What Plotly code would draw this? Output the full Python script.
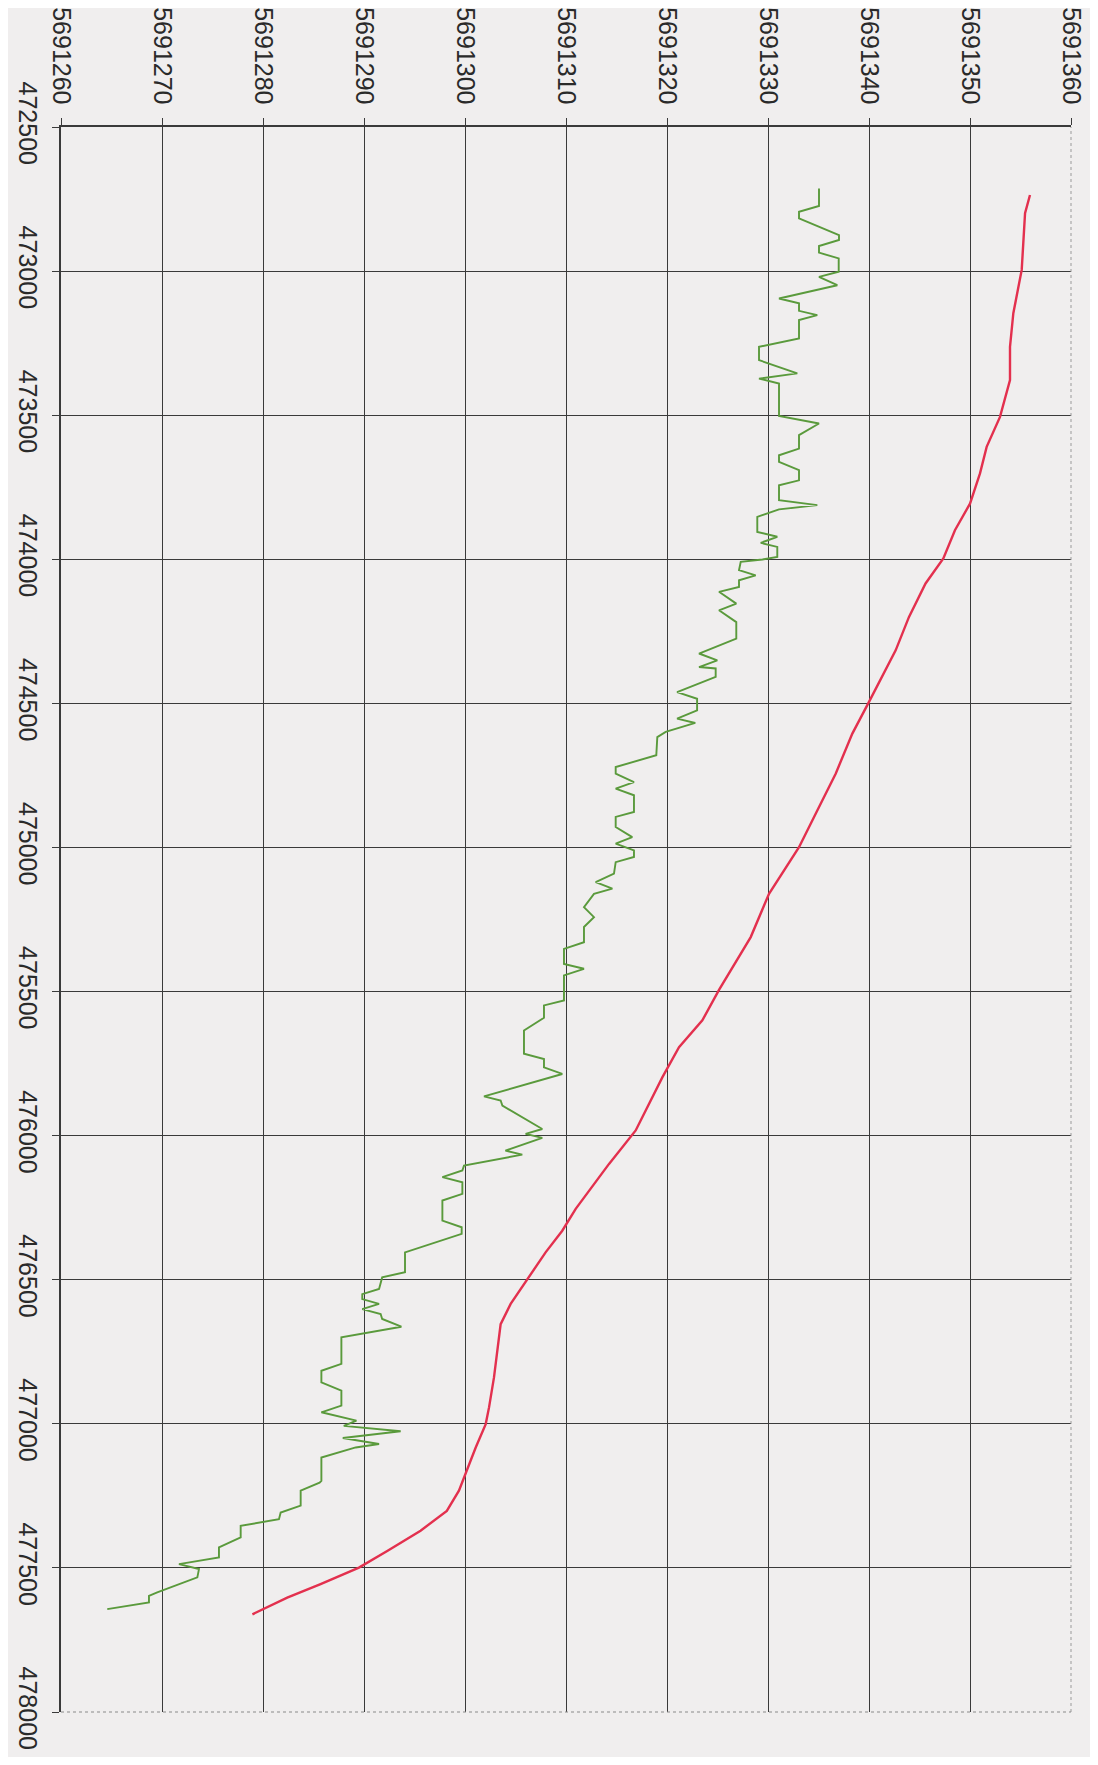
import plotly.graph_objects as go

# y-axis (vertical, reversed): easting; x-axis (horizontal, top): northing
easting_ticks = [472500, 473000, 473500, 474000, 474500, 475000, 475500,
                 476000, 476500, 477000, 477500, 478000]
northing_ticks = [5691260, 5691270, 5691280, 5691290, 5691300, 5691310,
                  5691320, 5691330, 5691340, 5691350, 5691360]

red_e = [472736, 472799, 472996, 473146, 473263, 473378, 473506, 473610, 473702,
         473807, 473899, 473997, 474084, 474200, 474316, 474385, 474495, 474605,
         474744, 474883, 474999, 475161, 475311, 475494, 475600, 475693, 475797,
         475982, 476098, 476254, 476330, 476405, 476497, 476584, 476654, 476746,
         476839, 476943, 477001, 477082, 477163, 477232, 477302, 477371, 477441,
         477499, 477556, 477603, 477661]
red_n = [5691355.94, 5691355.45, 5691355.12, 5691354.29, 5691353.96, 5691353.96,
         5691352.97, 5691351.65, 5691350.99, 5691350.0, 5691348.51, 5691347.36,
         5691345.6, 5691343.96, 5691342.64, 5691341.65, 5691340.0, 5691338.35,
         5691336.7, 5691334.72, 5691333.07, 5691330.1, 5691328.29, 5691325.15,
         5691323.5, 5691321.19, 5691319.55, 5691316.9, 5691314.26, 5691310.96,
         5691309.63, 5691307.98, 5691306.17, 5691304.52, 5691303.53, 5691303.2,
         5691302.87, 5691302.38, 5691302.05, 5691301.06, 5691300.2, 5691299.4,
         5691298.2, 5691295.6, 5691292.3, 5691289.5, 5691285.7, 5691282.4,
         5691278.95]

green_e = [472713, 472774, 472794, 472817, 472875, 472892, 472913, 472936, 472956,
           473002, 473020, 473049, 473095, 473112, 473138, 473153, 473170, 473234,
           473263, 473309, 473355, 473373, 473390, 473448,
           473503, 473529, 473569, 473616, 473639, 473662, 473691, 473726, 473743,
           473795, 473812, 473827, 473853, 473905, 473922, 473943, 473957, 473992,
           474001, 474009, 474038, 474056, 474073, 474096, 474113, 474154, 474177,
           474218, 474275, 474327, 474351, 474374,
           474379, 474408, 474461, 474484, 474524, 474553, 474568, 474599, 474617,
           474680, 474721, 474744, 474773, 474796, 474819, 474877, 474894, 474929,
           474964, 474987, 475010, 475033, 475051, 475091, 475120, 475143, 475161,
           475207, 475242, 475276, 475322,
           475329, 475352, 475404, 475421, 475444, 475531, 475548, 475591, 475635,
           475716, 475734, 475763, 475786, 475864, 475878, 475896, 475977, 475994,
           476008, 476052, 476066, 476104, 476121, 476144, 476162, 476202, 476225,
           476260,
           476295, 476318, 476341, 476405, 476474, 476492, 476532, 476550, 476567,
           476584, 476602, 476619, 476636, 476663, 476688, 476700, 476792, 476816,
           476856, 476885, 476937, 476960, 476989, 477007, 477026, 477049, 477070,
           477082, 477117, 477198,
           477204, 477232, 477284, 477308, 477331, 477354, 477394, 477429, 477464,
           477487, 477504, 477533, 477585, 477597, 477620, 477643]
green_n = [5691335.05, 5691335.05, 5691333.07, 5691333.07, 5691337.03, 5691337.03,
           5691335.05, 5691335.05, 5691337.0, 5691337.0, 5691335.05, 5691336.86,
           5691331.09, 5691333.07, 5691333.07, 5691334.88, 5691333.07, 5691333.07,
           5691329.11, 5691329.11, 5691332.9, 5691329.11, 5691331.09, 5691331.09,
           5691331.09, 5691335.05, 5691333.07, 5691333.07, 5691331.09, 5691331.09,
           5691333.07, 5691333.07, 5691331.09, 5691331.09, 5691334.88, 5691331.09,
           5691328.94, 5691328.94, 5691330.92, 5691329.28, 5691330.92, 5691330.92,
           5691329.44, 5691327.3, 5691327.13, 5691328.78, 5691327.13, 5691327.13,
           5691325.15, 5691326.86, 5691325.15, 5691326.86, 5691326.86, 5691323.17,
           5691324.98, 5691323.17,
           5691324.82, 5691324.82, 5691321.0, 5691322.98, 5691322.98, 5691321.0,
           5691322.8, 5691319.87, 5691319.04, 5691318.94, 5691314.92, 5691314.92,
           5691316.73, 5691314.92, 5691316.73, 5691316.73, 5691314.92, 5691314.92,
           5691316.56, 5691314.92, 5691316.73, 5691316.73, 5691314.92, 5691314.75,
           5691312.94, 5691314.59, 5691312.77, 5691311.78, 5691312.77, 5691311.78,
           5691311.78,
           5691311.78, 5691309.8, 5691309.8, 5691311.78, 5691309.8, 5691309.8,
           5691307.82, 5691307.82, 5691305.84, 5691305.84, 5691307.82, 5691307.82,
           5691309.63, 5691301.88, 5691303.53, 5691303.7, 5691307.65, 5691306.0,
           5691307.65, 5691304.0, 5691305.67, 5691299.9, 5691299.74, 5691297.76,
           5691299.74, 5691299.74, 5691297.76, 5691297.76,
           5691297.76, 5691299.67, 5691299.67, 5691294.06, 5691294.06, 5691291.8,
           5691291.49, 5691289.83, 5691289.83, 5691291.49, 5691289.83, 5691291.65,
           5691291.8, 5691293.7, 5691289.74, 5691287.76, 5691287.76, 5691285.78,
           5691285.78, 5691287.76, 5691287.76, 5691285.78, 5691289.25, 5691288.0,
           5691293.63, 5691287.9, 5691291.49, 5691289.18, 5691285.78, 5691285.78,
           5691285.6, 5691283.73, 5691283.73, 5691281.75, 5691281.58, 5691277.79,
           5691277.79, 5691275.64, 5691275.64, 5691271.68, 5691273.66, 5691273.5,
           5691269.53, 5691268.71, 5691268.71, 5691264.58]

GRID = "#3a3a3a"
FONT = dict(family="Liberation Sans, Arial, sans-serif", size=25, color="#2a2a2a")

fig = go.Figure()
fig.add_trace(go.Scatter(x=red_n, y=red_e, mode="lines",
                         line=dict(color="#e3304e", width=2.4), showlegend=False))
fig.add_trace(go.Scatter(x=green_n, y=green_e, mode="lines",
                         line=dict(color="#5a9a3c", width=1.9), showlegend=False))

# the page body has an 8px default margin; size the figure so it fits the window
fig.update_layout(
    width=1082, height=1749,
    margin=dict(l=53, r=19, t=119, b=45, autoexpand=False),
    paper_bgcolor="#f0eeee", plot_bgcolor="#f0eeee",
    font=FONT,
    showlegend=False,
)
fig.update_xaxes(
    side="top", range=[northing_ticks[0], northing_ticks[-1]],
    tickvals=northing_ticks, ticktext=[str(v) for v in northing_ticks],
    tickangle=90, ticks="outside", ticklen=7, tickcolor=GRID, tickwidth=1.3,
    showgrid=True, gridcolor=GRID, gridwidth=1.3,
    showline=True, linecolor=GRID, linewidth=1.5, mirror=False,
    zeroline=False, ticklabelstandoff=5, automargin=False,
)
fig.update_yaxes(
    range=[easting_ticks[-1], easting_ticks[0]],
    tickvals=easting_ticks, ticktext=[str(v) for v in easting_ticks],
    tickangle=90, ticks="outside", ticklen=7, tickcolor=GRID, tickwidth=1.3,
    showgrid=True, gridcolor=GRID, gridwidth=1.3,
    showline=True, linecolor=GRID, linewidth=1.5, mirror=False,
    zeroline=False, ticklabelstandoff=3, automargin=False,
)
# faint dotted frame on right and bottom edges
fig.add_shape(type="line", xref="paper", yref="paper", x0=1, x1=1, y0=0, y1=1,
              line=dict(color="#9a9a9a", width=1, dash="dot"))
fig.add_shape(type="line", xref="paper", yref="paper", x0=0, x1=1, y0=0, y1=0,
              line=dict(color="#8a8a8a", width=1.2, dash="dot"))

fig.write_html("out.html")
